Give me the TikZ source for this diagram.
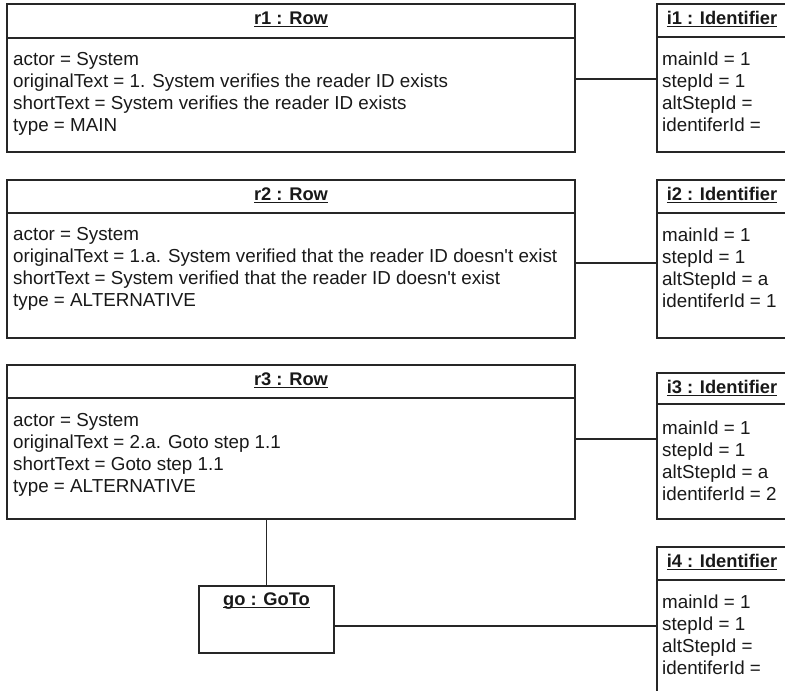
\documentclass[tikz,border=0pt]{standalone}
\usepackage{fontspec}
\setmainfont{Liberation Sans}
\newcommand\myul[1]{\setbox0\hbox{#1}\makebox[0pt][l]{\rule[-2.2pt]{\wd0}{1.2pt}}\box0}
\begin{document}
\begin{tikzpicture}[x=1pt,y=-1pt,
  obj/.style={draw=black!85, line width=1.3pt, inner sep=0pt, outer sep=0pt},
  hdr/.style={draw=black!85, line width=1.3pt},
  ttl/.style={font=\fontsize{18.3}{22}\selectfont\bfseries, anchor=base, inner sep=0pt, text=black!90},
  attr/.style={font=\fontsize{18.8}{22}\selectfont, anchor=base west, inner sep=0pt, text=black!90},
  link/.style={draw=black!85, line width=1.3pt}]
\useasboundingbox (0,0) rectangle (785,691);
\fill[white] (0,0) rectangle (785,691);
\clip (0,0) rectangle (785,691);

% Row objects
\node[obj, minimum width=568pt, minimum height=148pt] (r1) at (291,78) {};
\node[obj, minimum width=568pt, minimum height=158pt] (r2) at (291,259) {};
\node[obj, minimum width=568pt, minimum height=154pt] (r3) at (291,442) {};
% Identifier objects
\node[obj, minimum width=130pt, minimum height=148pt] (i1) at (722,78) {};
\node[obj, minimum width=130pt, minimum height=158pt] (i2) at (722,259) {};
\node[obj, minimum width=130pt, minimum height=146pt] (i3) at (722,446) {};
\node[obj, minimum width=130pt, minimum height=180pt] (i4) at (722,637) {};
% GoTo object
\node[obj, minimum width=135pt, minimum height=67pt] (go) at (266.5,619.5) {};

% header separators
\foreach \b/\d in {r1/34,r2/33,r3/33,i1/33,i2/33,i3/31,i4/33}{
  \draw[hdr] ([yshift=-\d pt]\b.north west) -- ([yshift=-\d pt]\b.north east);
}

% titles
\node[ttl] (r1t) at ([yshift=-20.5pt]r1.north) {\myul{r1 : Row}};
\node[ttl] (r2t) at ([yshift=-20.5pt]r2.north) {\myul{r2 : Row}};
\node[ttl] (r3t) at ([yshift=-20.5pt]r3.north) {\myul{r3 : Row}};
\node[ttl] (i1t) at ([yshift=-20.5pt]i1.north) {\myul{i1 : Identifier}};
\node[ttl] (i2t) at ([yshift=-20.5pt]i2.north) {\myul{i2 : Identifier}};
\node[ttl] (i3t) at ([yshift=-20.5pt]i3.north) {\myul{i3 : Identifier}};
\node[ttl] (i4t) at ([yshift=-20.5pt]i4.north) {\myul{i4 : Identifier}};
\node[ttl] (got) at ([yshift=-19.5pt]go.north) {\myul{go : GoTo}};

% r1 attributes
\node[attr] (r1a) at ([xshift=6pt,yshift=-61pt]r1.north west) {actor = System};
\node[attr] (r1b) at ([yshift=-22pt]r1a.base west) {originalText = 1. System verifies the reader ID exists};
\node[attr] (r1c) at ([yshift=-22pt]r1b.base west) {shortText = System verifies the reader ID exists};
\node[attr] (r1d) at ([yshift=-22pt]r1c.base west) {type = MAIN};
% r2 attributes
\node[attr] (r2a) at ([xshift=6pt,yshift=-60pt]r2.north west) {actor = System};
\node[attr] (r2b) at ([yshift=-22pt]r2a.base west) {originalText = 1.a. System verified that the reader ID doesn\textquotesingle t exist};
\node[attr] (r2c) at ([yshift=-22pt]r2b.base west) {shortText = System verified that the reader ID doesn\textquotesingle t exist};
\node[attr] (r2d) at ([yshift=-22pt]r2c.base west) {type = ALTERNATIVE};
% r3 attributes
\node[attr] (r3a) at ([xshift=6pt,yshift=-61pt]r3.north west) {actor = System};
\node[attr] (r3b) at ([yshift=-22pt]r3a.base west) {originalText = 2.a. Goto step 1.1};
\node[attr] (r3c) at ([yshift=-22pt]r3b.base west) {shortText = Goto step 1.1};
\node[attr] (r3d) at ([yshift=-22pt]r3c.base west) {type = ALTERNATIVE};

% identifier attributes
\foreach \b/\m/\s/\a/\k in {i1/1/1//, i2/1/1/a/1, i3/1/1/a/2, i4/1/1//}{
  \node[attr] (\b a) at ([xshift=5pt,yshift=-61pt]\b.north west) {mainId = \m};
  \node[attr] (\b b) at ([yshift=-22pt]\b a.base west) {stepId = \s};
  \node[attr] (\b c) at ([yshift=-22pt]\b b.base west) {altStepId = \a};
  \node[attr] (\b d) at ([yshift=-22pt]\b c.base west) {identiferId = \k};
}

% links
\draw[link] ([yshift=-1pt]r1.east) -- ([yshift=-1pt]r1.east -| i1.west);
\draw[link] ([yshift=-4pt]r2.east) -- ([yshift=-4pt]r2.east -| i2.west);
\draw[link] ([yshift=3pt]r3.east) -- ([yshift=3pt]r3.east -| i3.west);
\draw[link] ([yshift=-6.5pt]go.east) -- ([yshift=-6.5pt]go.east -| i4.west);
\draw[link] (go.north) -- (go.north |- r3.south);
\end{tikzpicture}
\end{document}
